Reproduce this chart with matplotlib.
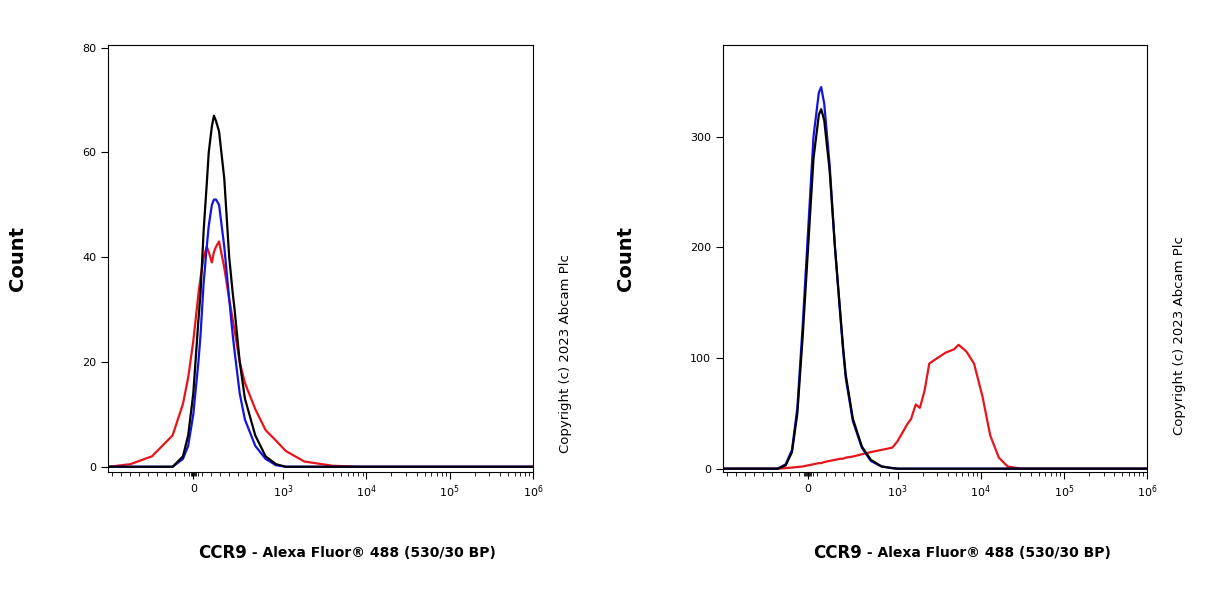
import matplotlib.pyplot as plt
from matplotlib.ticker import FixedLocator

# left panel
l_x = [-940, -700, -460, -230, -115, -57, 0, 57, 80, 115, 150, 172, 207, 230, 253, 287, 345, 400, 440, 460, 517, 575, 690, 805, 920, 1080, 1800, 3900, 8300, 1e6]
l_black = [0, 0, 0, 0, 2, 6, 14, 28, 33, 45, 54, 60, 65, 67, 66, 64, 55, 40, 33, 30, 20, 13, 6, 2, 0.5, 0, 0, 0, 0, 0]
l_blue = [0, 0, 0, 0, 1.5, 4, 10, 20, 25, 35, 42, 46, 50, 51, 51, 50, 42, 32, 25, 22, 14, 9, 4, 1.5, 0.3, 0, 0, 0, 0, 0]
l_red = [0, 0.5, 2, 6, 12, 17, 24, 33, 36, 40, 42, 41, 39, 41, 42, 43, 38, 32, 28, 26, 20, 16, 11, 7, 5, 3, 1, 0.2, 0, 0]

# right panel
r_x = [-970, -340, -250, -180, -120, -60, 0, 60, 120, 146, 180, 240, 300, 360, 390, 420, 500, 600, 700, 820, 940, 1000, 1300, 1450, 1650, 1850, 2100, 2400, 3000, 3800, 4800, 5400, 6700, 8300, 10500, 13000, 16500, 21000, 30000, 1e6]
r_black = [0, 0, 3, 15, 50, 120, 200, 280, 320, 325, 315, 270, 200, 140, 110, 85, 45, 20, 8, 2, 0.5, 0, 0, 0, 0, 0, 0, 0, 0, 0, 0, 0, 0, 0, 0, 0, 0, 0, 0, 0]
r_blue = [0, 0, 4, 17, 55, 130, 215, 300, 340, 345, 330, 275, 200, 138, 108, 82, 43, 19, 7, 2, 0.5, 0, 0, 0, 0, 0, 0, 0, 0, 0, 0, 0, 0, 0, 0, 0, 0, 0, 0, 0]
r_red = [0, 0, 0.5, 1, 1.5, 2, 3, 4, 5, 5, 6, 7, 8, 9, 9, 10, 11, 13, 15, 17, 19, 25, 40, 45, 58, 55, 70, 95, 100, 105, 108, 112, 106, 95, 65, 30, 10, 2, 0, 0]

xlabel_main = "CCR9"
xlabel_rest = " - Alexa Fluor® 488 (530/30 BP)"

fig = plt.figure(figsize=(12.19, 6), dpi=100)
axl = fig.add_axes([108/1219, 128/600, 425/1219, 427/600])
axr = fig.add_axes([723/1219, 128/600, 424/1219, 427/600])

panels = [
    (axl, l_x, [l_red, l_blue, l_black], (-1, 80.5), [0, 20, 40, 60, 80], 565, 0.41),
    (axr, r_x, [r_red, r_blue, r_black], (-3, 383), [0, 100, 200, 300], 1180, 0.44),
]
for ax, xs, ys, ylim, yt, cx, cy in panels:
    for y, c in zip(ys, ["#e8141b", "#1414e0", "black"]):
        ax.plot(xs, y, color=c, lw=1.6)
    ax.set_xscale("symlog", linthresh=1000, linscale=0.97)
    ax.set_xlim(-950, 1e6)
    ax.set_ylim(*ylim)
    ax.set_xticks([0, 1e3, 1e4, 1e5, 1e6])
    ax.set_xticklabels(["0", "$10^3$", "$10^4$", "$10^5$", "$10^6$"], fontsize=8)
    ax.xaxis.set_minor_locator(FixedLocator(
        [-900, -800, -700, -600, -500, -400, -300, -200, -100, -50, -30, -20, -10, 10, 20, 30, 50, 100, 200, 300, 400, 500, 600, 700, 800, 900]
        + [m * 10**e for e in (3, 4, 5) for m in range(2, 10)]))
    ax.set_yticks(yt)
    ax.set_yticklabels([str(v) for v in yt], fontsize=8)
    ax.tick_params(which="major", length=5, direction="out")
    ax.tick_params(which="minor", length=3, direction="out")
    ax.set_ylabel("Count", fontsize=14, fontweight="bold", labelpad=40)
    x0 = ax.get_position().x0 + ax.get_position().width / 2
    fig.text(x0 - 0.06, 0.078, xlabel_main, fontsize=12, fontweight="bold", ha="right", va="center")
    fig.text(x0 - 0.06, 0.078, xlabel_rest, fontsize=10, fontweight="bold", ha="left", va="center")
    fig.text(cx / 1219, cy, "Copyright (c) 2023 Abcam Plc", rotation=90,
             fontsize=9.5, ha="center", va="center")

fig.savefig("out.png", dpi=100)
